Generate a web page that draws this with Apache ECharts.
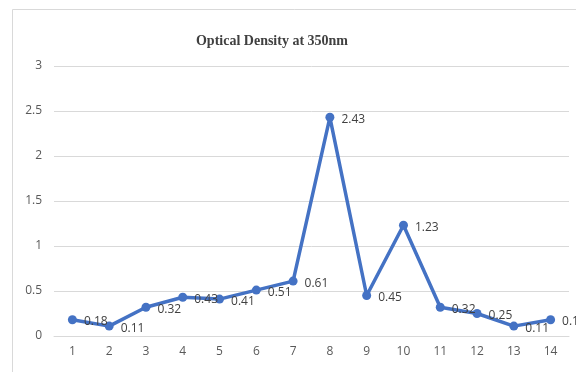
<!DOCTYPE html>
<html><head><meta charset="utf-8">
<script src="https://cdn.jsdelivr.net/npm/echarts@6/dist/echarts.min.js"></script>
<style>html,body{margin:0;padding:0;background:#fff}#c{width:576px;height:372px}</style>
</head><body><div id="c"></div>
<script>
const categories = ['1','2','3','4','5','6','7','8','9','10','11','12','13','14'];
const values = [0.18, 0.11, 0.32, 0.43, 0.41, 0.51, 0.61, 2.43, 0.45, 1.23, 0.32, 0.25, 0.11, 0.18];
const titleText = 'Optical Density at 350nm';

const chart = echarts.init(document.getElementById('c'), null, {renderer: 'canvas'});
chart.setOption({
  animation: false,
  backgroundColor: '#fff',
  graphic: [{
    type: 'polyline', silent: true,
    shape: {points: [[12.5, 372], [12.5, 9.5], [576, 9.5]]},
    style: {stroke: '#d9d9d9', lineWidth: 1, fill: null}
  }],
  title: {
    text: titleText, left: 267, top: 29, textAlign: 'center',
    textStyle: {fontFamily: 'Liberation Serif', fontWeight: 'bold', fontSize: 14, color: '#404040'}
  },
  grid: {left: 54, right: 7, top: 66, bottom: 36},
  xAxis: {
    type: 'category', data: categories, boundaryGap: true,
    axisLine: {show: true, lineStyle: {color: '#d9d9d9'}},
    axisTick: {show: false},
    axisLabel: {color: '#595959', fontSize: 12, fontFamily: 'Open Sans', margin: 10}
  },
  yAxis: {
    type: 'value', min: 0, max: 3, interval: 0.5,
    axisLine: {show: false}, axisTick: {show: false},
    splitLine: {lineStyle: {color: '#d9d9d9'}},
    axisLabel: {color: '#595959', fontSize: 12, fontFamily: 'Open Sans', margin: 12}
  },
  series: [{
    type: 'line', data: values,
    lineStyle: {color: '#4472C4', width: 3.5},
    itemStyle: {color: '#4472C4'},
    symbol: 'circle', symbolSize: 9,
    label: {show: true, position: 'right', distance: 7, offset: [0, 2],
      color: '#404040', fontSize: 12, fontFamily: 'Open Sans'}
  }]
});
</script></body></html>
